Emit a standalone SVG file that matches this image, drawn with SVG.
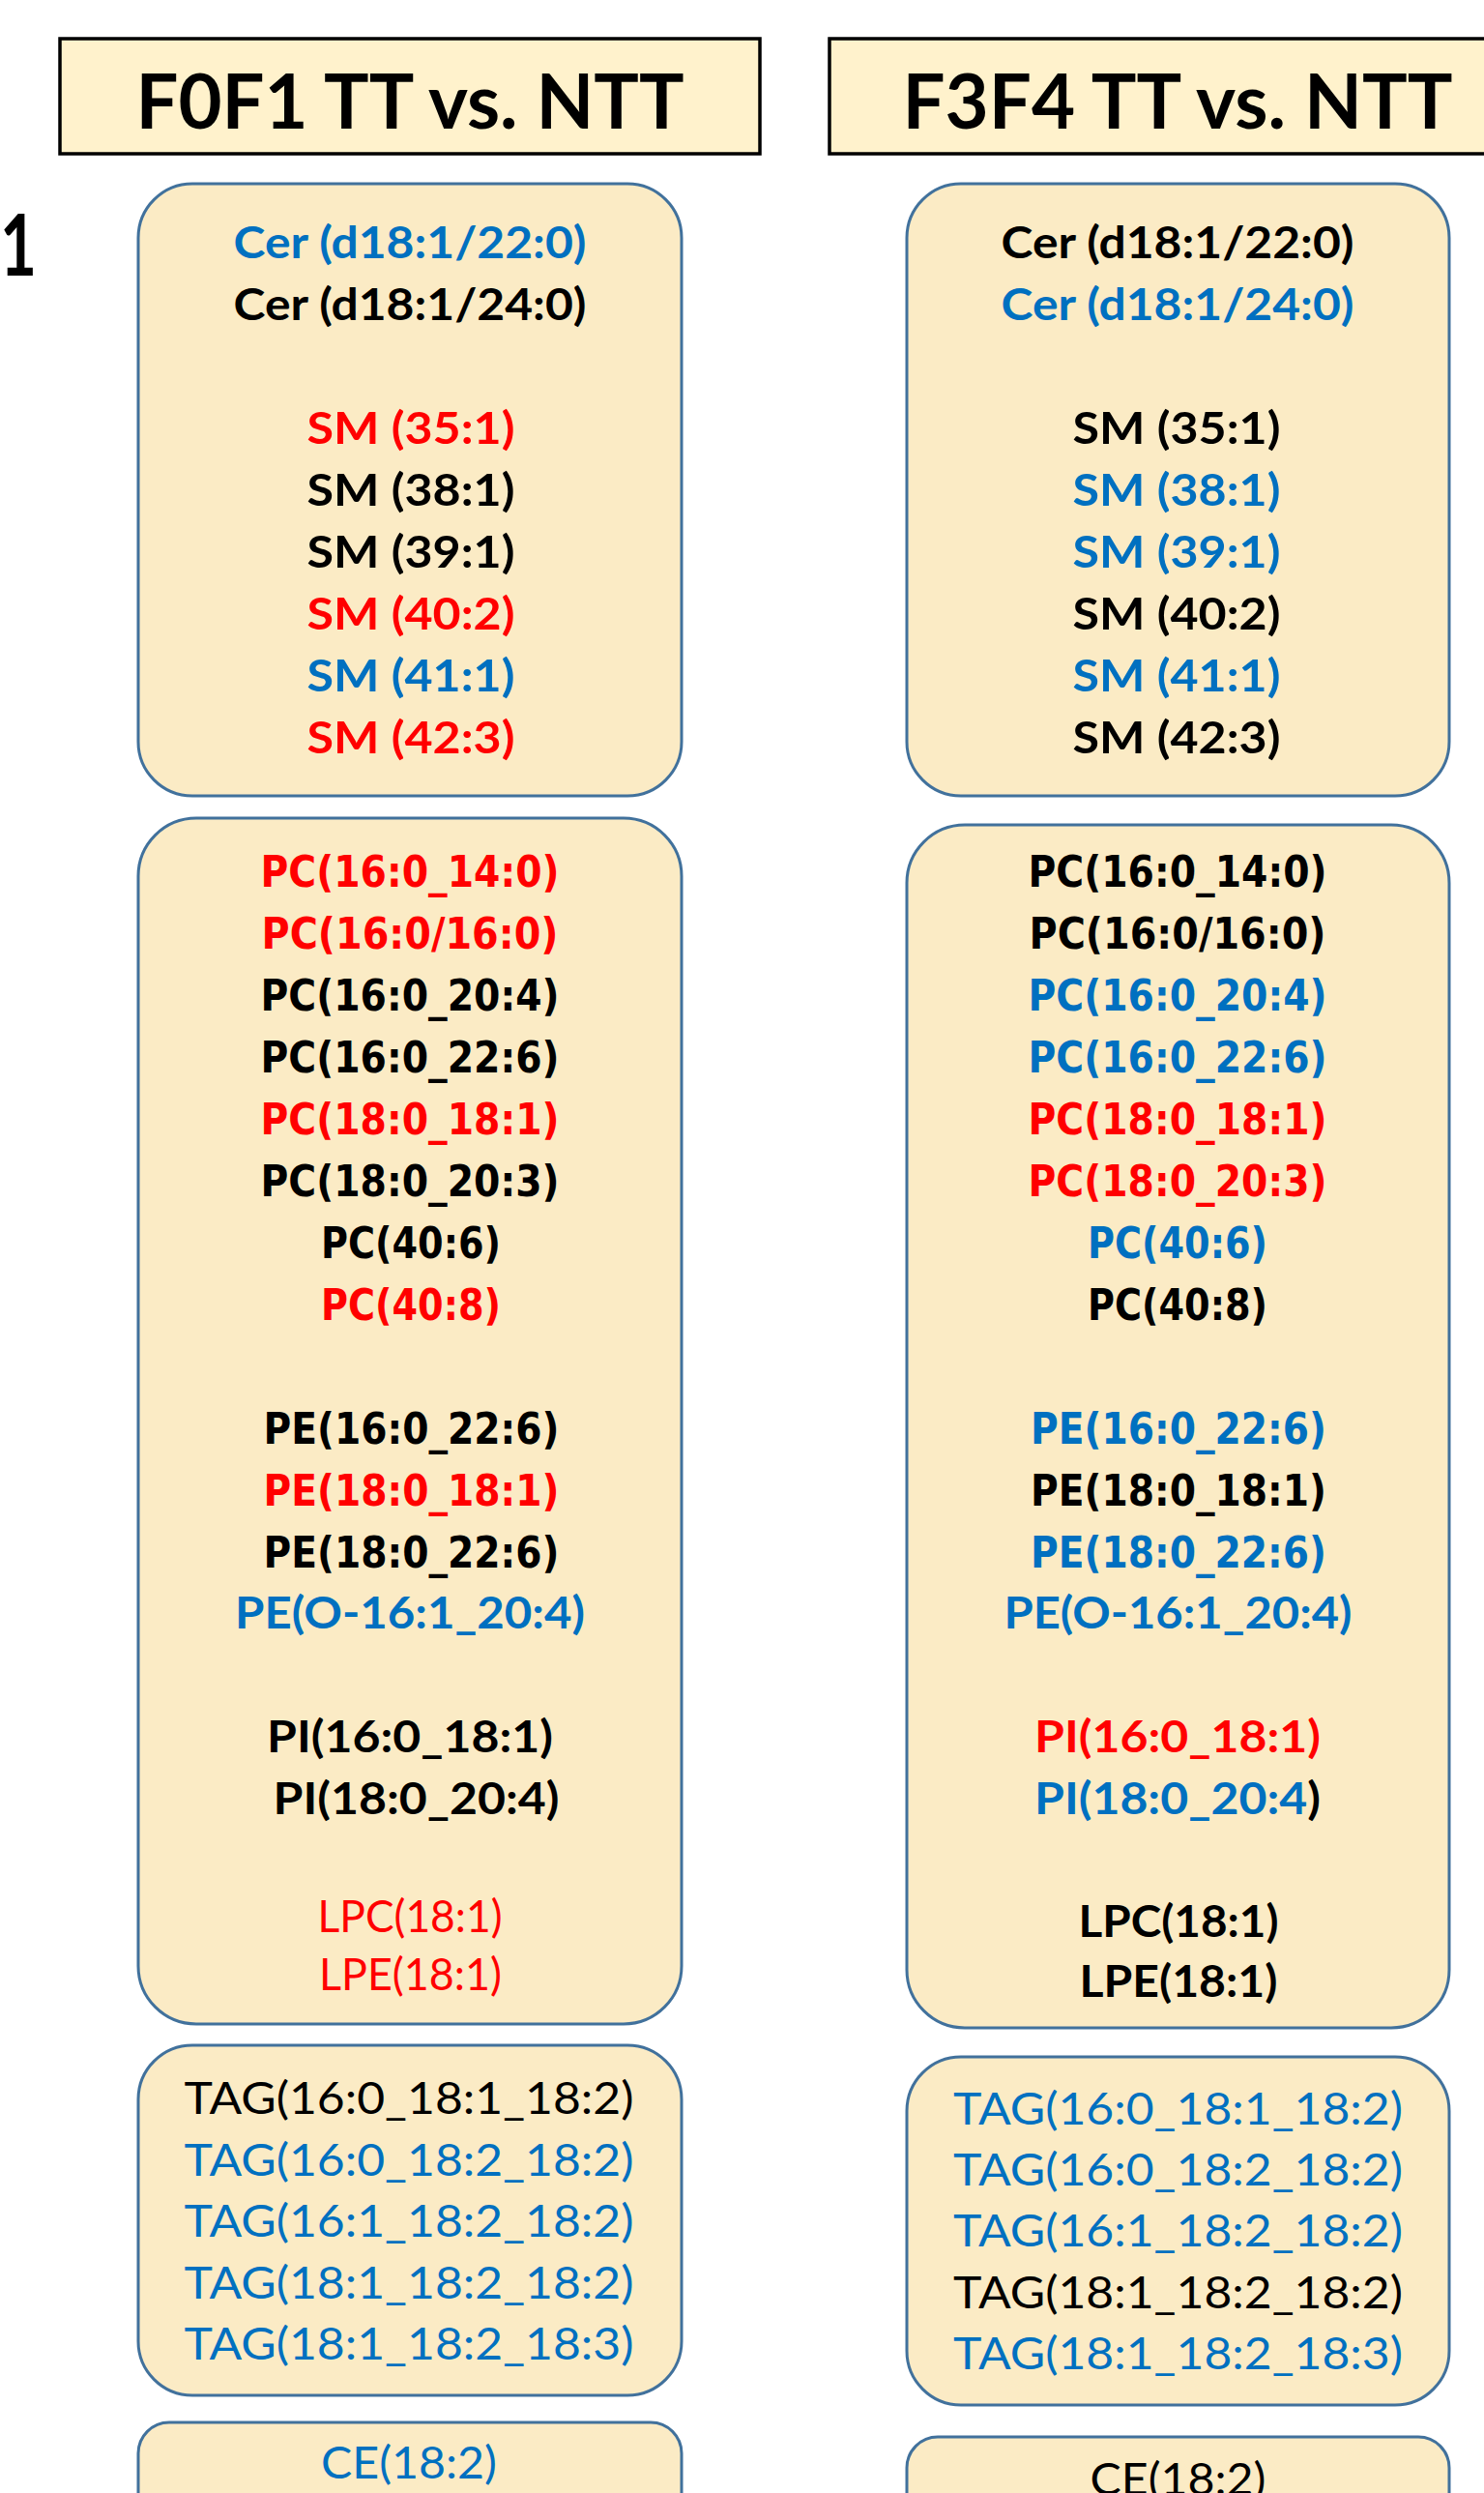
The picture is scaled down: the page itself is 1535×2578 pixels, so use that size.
<svg xmlns="http://www.w3.org/2000/svg" width="1535" height="2578" viewBox="0 0 1535 2578">
<style>
.hdr{fill:#FFF2CC;stroke:#000;stroke-width:3.5}
.box{fill:#FBEBC5;stroke:#41719C;stroke-width:3}
text{text-anchor:middle}
.h{font-family:Lato,"Liberation Sans",sans-serif;font-weight:700;font-size:78px;fill:#000}
.c{font-family:Lato,"Liberation Sans",sans-serif;font-weight:700;font-size:46px}
.cr{font-family:Lato,"Liberation Sans",sans-serif;font-weight:400;font-size:46px}
.t{font-family:"DejaVu Sans","Liberation Sans",sans-serif;font-weight:700;font-size:44px}
.k{fill:#000}.b{fill:#0070C0}.r{fill:#FF0000}
</style>
<rect width="1535" height="2578" fill="#fff"/>
<g id="label-1"><text x="19" y="285" class="h" style="font-size:88px" textLength="38" lengthAdjust="spacingAndGlyphs">1</text></g>
<g id="header-f0f1">
<rect class="hdr" x="62" y="40" width="724" height="119"/>
<text class="h" x="424" y="133" textLength="567" lengthAdjust="spacingAndGlyphs">F0F1 TT vs. NTT</text>
</g>
<g id="header-f3f4">
<rect class="hdr" x="858" y="40" width="700" height="119"/>
<text class="h" x="1218" y="133" textLength="569" lengthAdjust="spacingAndGlyphs">F3F4 TT vs. NTT</text>
</g>
<g id="connectors"></g>
<g id="f0f1-cer-sm">
<rect class="box" x="143" y="190" width="562" height="633" rx="56"/>
<text class="c b" x="424" y="267" textLength="365" lengthAdjust="spacingAndGlyphs">Cer (d18:1/22:0)</text>
<text class="c k" x="424" y="331" textLength="365" lengthAdjust="spacingAndGlyphs">Cer (d18:1/24:0)</text>
<text class="c r" x="425" y="459" textLength="215" lengthAdjust="spacingAndGlyphs">SM (35:1)</text>
<text class="c k" x="425" y="523" textLength="215" lengthAdjust="spacingAndGlyphs">SM (38:1)</text>
<text class="c k" x="425" y="587" textLength="215" lengthAdjust="spacingAndGlyphs">SM (39:1)</text>
<text class="c r" x="425" y="651" textLength="215" lengthAdjust="spacingAndGlyphs">SM (40:2)</text>
<text class="c b" x="425" y="715" textLength="215" lengthAdjust="spacingAndGlyphs">SM (41:1)</text>
<text class="c r" x="425" y="779" textLength="215" lengthAdjust="spacingAndGlyphs">SM (42:3)</text>
</g>
<g id="f3f4-cer-sm">
<rect class="box" x="938" y="190" width="561" height="633" rx="56"/>
<text class="c k" x="1218" y="267" textLength="365" lengthAdjust="spacingAndGlyphs">Cer (d18:1/22:0)</text>
<text class="c b" x="1218" y="331" textLength="365" lengthAdjust="spacingAndGlyphs">Cer (d18:1/24:0)</text>
<text class="c k" x="1217" y="459" textLength="215" lengthAdjust="spacingAndGlyphs">SM (35:1)</text>
<text class="c b" x="1217" y="523" textLength="215" lengthAdjust="spacingAndGlyphs">SM (38:1)</text>
<text class="c b" x="1217" y="587" textLength="215" lengthAdjust="spacingAndGlyphs">SM (39:1)</text>
<text class="c k" x="1217" y="651" textLength="215" lengthAdjust="spacingAndGlyphs">SM (40:2)</text>
<text class="c b" x="1217" y="715" textLength="215" lengthAdjust="spacingAndGlyphs">SM (41:1)</text>
<text class="c k" x="1217" y="779" textLength="215" lengthAdjust="spacingAndGlyphs">SM (42:3)</text>
</g>
<g id="f0f1-phospholipids">
<rect class="box" x="143" y="846" width="562" height="1247" rx="60"/>
<text class="t r" x="424" y="917" textLength="309" lengthAdjust="spacingAndGlyphs">PC(16:0_14:0)</text>
<text class="t r" x="424" y="981" textLength="307" lengthAdjust="spacingAndGlyphs">PC(16:0/16:0)</text>
<text class="t k" x="424" y="1045" textLength="309" lengthAdjust="spacingAndGlyphs">PC(16:0_20:4)</text>
<text class="t k" x="424" y="1109" textLength="309" lengthAdjust="spacingAndGlyphs">PC(16:0_22:6)</text>
<text class="t r" x="424" y="1173" textLength="309" lengthAdjust="spacingAndGlyphs">PC(18:0_18:1)</text>
<text class="t k" x="424" y="1237" textLength="309" lengthAdjust="spacingAndGlyphs">PC(18:0_20:3)</text>
<text class="t k" x="425" y="1301" textLength="186" lengthAdjust="spacingAndGlyphs">PC(40:6)</text>
<text class="t r" x="425" y="1365" textLength="186" lengthAdjust="spacingAndGlyphs">PC(40:8)</text>
<text class="t k" x="425.5" y="1493" textLength="306" lengthAdjust="spacingAndGlyphs">PE(16:0_22:6)</text>
<text class="t r" x="425.5" y="1557" textLength="306" lengthAdjust="spacingAndGlyphs">PE(18:0_18:1)</text>
<text class="t k" x="425.5" y="1621" textLength="306" lengthAdjust="spacingAndGlyphs">PE(18:0_22:6)</text>
<text class="c b" x="424" y="1684" textLength="362" lengthAdjust="spacingAndGlyphs">PE(O-16:1_20:4)</text>
<text class="c k" x="424" y="1812" textLength="296" lengthAdjust="spacingAndGlyphs">PI(16:0_18:1)</text>
<text class="c k" x="430.5" y="1876" textLength="296" lengthAdjust="spacingAndGlyphs">PI(18:0_20:4)</text>
<text class="cr r" x="424" y="1998" textLength="191" lengthAdjust="spacingAndGlyphs">LPC(18:1)</text>
<text class="cr r" x="424.5" y="2058" textLength="189" lengthAdjust="spacingAndGlyphs">LPE(18:1)</text>
</g>
<g id="f3f4-phospholipids">
<rect class="box" x="938" y="853" width="561" height="1244" rx="60"/>
<text class="t k" x="1218" y="917" textLength="309" lengthAdjust="spacingAndGlyphs">PC(16:0_14:0)</text>
<text class="t k" x="1218" y="981" textLength="307" lengthAdjust="spacingAndGlyphs">PC(16:0/16:0)</text>
<text class="t b" x="1218" y="1045" textLength="309" lengthAdjust="spacingAndGlyphs">PC(16:0_20:4)</text>
<text class="t b" x="1218" y="1109" textLength="309" lengthAdjust="spacingAndGlyphs">PC(16:0_22:6)</text>
<text class="t r" x="1218" y="1173" textLength="309" lengthAdjust="spacingAndGlyphs">PC(18:0_18:1)</text>
<text class="t r" x="1218" y="1237" textLength="309" lengthAdjust="spacingAndGlyphs">PC(18:0_20:3)</text>
<text class="t b" x="1218" y="1301" textLength="186" lengthAdjust="spacingAndGlyphs">PC(40:6)</text>
<text class="t k" x="1218" y="1365" textLength="186" lengthAdjust="spacingAndGlyphs">PC(40:8)</text>
<text class="t b" x="1219" y="1493" textLength="306" lengthAdjust="spacingAndGlyphs">PE(16:0_22:6)</text>
<text class="t k" x="1219" y="1557" textLength="306" lengthAdjust="spacingAndGlyphs">PE(18:0_18:1)</text>
<text class="t b" x="1219" y="1621" textLength="306" lengthAdjust="spacingAndGlyphs">PE(18:0_22:6)</text>
<text class="c b" x="1218.5" y="1684" textLength="360" lengthAdjust="spacingAndGlyphs">PE(O-16:1_20:4)</text>
<text class="c r" x="1218" y="1812" textLength="296" lengthAdjust="spacingAndGlyphs">PI(16:0_18:1)</text>
<text class="c b" x="1218" y="1876" textLength="296" lengthAdjust="spacingAndGlyphs">PI(18:0_20:4<tspan class="k">)</tspan></text>
<text class="c k" x="1219" y="2003" textLength="207" lengthAdjust="spacingAndGlyphs">LPC(18:1)</text>
<text class="c k" x="1219" y="2065" textLength="205" lengthAdjust="spacingAndGlyphs">LPE(18:1)</text>
</g>
<g id="f0f1-tag">
<rect class="box" x="143" y="2115" width="562" height="362" rx="56"/>
<text class="cr k" x="423" y="2186" textLength="465" lengthAdjust="spacingAndGlyphs">TAG(16:0_18:1_18:2)</text>
<text class="cr b" x="423" y="2250" textLength="465" lengthAdjust="spacingAndGlyphs">TAG(16:0_18:2_18:2)</text>
<text class="cr b" x="423" y="2313" textLength="465" lengthAdjust="spacingAndGlyphs">TAG(16:1_18:2_18:2)</text>
<text class="cr b" x="423" y="2377" textLength="465" lengthAdjust="spacingAndGlyphs">TAG(18:1_18:2_18:2)</text>
<text class="cr b" x="423" y="2440" textLength="465" lengthAdjust="spacingAndGlyphs">TAG(18:1_18:2_18:3)</text>
</g>
<g id="f3f4-tag">
<rect class="box" x="938" y="2127" width="561" height="360" rx="56"/>
<text class="cr b" x="1218.5" y="2197" textLength="465" lengthAdjust="spacingAndGlyphs">TAG(16:0_18:1_18:2)</text>
<text class="cr b" x="1218.5" y="2260" textLength="465" lengthAdjust="spacingAndGlyphs">TAG(16:0_18:2_18:2)</text>
<text class="cr b" x="1218.5" y="2323" textLength="465" lengthAdjust="spacingAndGlyphs">TAG(16:1_18:2_18:2)</text>
<text class="cr k" x="1218.5" y="2387" textLength="465" lengthAdjust="spacingAndGlyphs">TAG(18:1_18:2_18:2)</text>
<text class="cr b" x="1218.5" y="2450" textLength="465" lengthAdjust="spacingAndGlyphs">TAG(18:1_18:2_18:3)</text>
</g>
<g id="f0f1-ce">
<rect class="box" x="143" y="2505" width="562" height="120" rx="32"/>
<text class="cr b" x="423" y="2563" textLength="182" lengthAdjust="spacingAndGlyphs">CE(18:2)</text>
</g>
<g id="f3f4-ce">
<rect class="box" x="938" y="2520" width="561" height="120" rx="32"/>
<text class="cr k" x="1218.5" y="2580" textLength="182" lengthAdjust="spacingAndGlyphs">CE(18:2)</text>
</g>
</svg>
